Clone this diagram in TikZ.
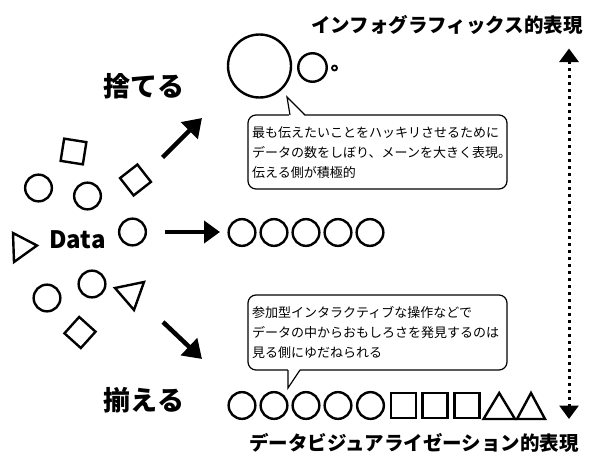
\documentclass[tikz,border=0pt]{standalone}
\usepackage{fontspec}
\setmainfont{Noto Sans CJK JP}
\usetikzlibrary{arrows.meta}
\begin{document}
\begin{tikzpicture}[x=1pt,y=-1pt,
 shp/.style={draw=black,line width=2.4pt,inner sep=0pt},
 circ/.style={shp,circle,minimum size=#1},
 sq/.style={shp,rectangle,minimum size=#1},
 tri/.style={draw=black,line width=2.4pt},
 bigarrow/.style={line width=4.5pt,-{Triangle[length=18pt,width=23pt]}},
 ttl/.style={font=\bfseries\fontsize{19.5}{20}\selectfont,anchor=base,inner sep=0pt},
 verb/.style={font=\bfseries\fontsize{27}{28}\selectfont,anchor=base,inner sep=0pt},
 callout/.style={draw=black,line width=1.2pt,rounded corners=8pt,rectangle,inner sep=0pt,fill=white},
 ctext/.style={font=\fontsize{13}{20}\selectfont,anchor=north west,align=left,inner sep=0pt},
 axisline/.style={line width=3pt,dash pattern=on 3pt off 4pt,
   {Triangle[length=13.5pt,width=19pt]}-{Triangle[length=13.5pt,width=19pt]}},
]
\useasboundingbox[fill=white] (0,0) rectangle (600,471);

% titles
\node[ttl] (t1) at (447,32.4) {インフォグラフィックス的表現};
\node[ttl] (t2) at (414,450.4) {データビジュアライゼーション的表現};
\node[verb] (v1) at (144,96.3) {捨てる};
\node[verb] (v2) at (144,410.3) {揃える};
\node[font=\bfseries\fontsize{24}{25}\selectfont,anchor=base,inner sep=0pt] (data) at (77.5,248.5) {Data};

% scattered data
\node[circ=26.7] (c1) at (38.5,188) {};
\node[circ=26.7] (c2) at (87.5,196) {};
\node[circ=26.7] (c3) at (132.5,232) {};
\node[circ=26.7] (c4) at (47,298) {};
\node[circ=26.7] (c5) at (92,284) {};
\node[sq=22.5,rotate=-9] (s1) at (73.5,151.5) {};
\node[sq=22,rotate=38] (s2) at (135.5,180) {};
\node[sq=22,rotate=48] (s3) at (80,332.5) {};
\draw[tri] (13,233) -- (37,245.5) -- (14,262) -- cycle;
\draw[tri] (115,288) -- (144,282) -- (134,310) -- cycle;

% arrows
\coordinate (a1s) at (162.5,157.5);
\coordinate (a1e) at (202,118);
\coordinate (a2s) at (165,232);
\coordinate (a2e) at (220,232);
\coordinate (a3s) at (163,322);
\coordinate (a3e) at (202,359);
\draw[bigarrow] (a1s) -- (a1e);
\draw[bigarrow,-{Triangle[length=16pt,width=22pt]}] (a2s) -- (a2e);
\draw[bigarrow] (a3s) -- (a3e);

% top result
\node[circ=63] (b1) at (259.5,66) {};
\node[circ=28.5] (b2) at (312.5,67.5) {};
\node[shp,circle,minimum size=5,line width=1.8pt] (b3) at (334.5,68) {};

% middle row
\foreach \i/\x in {1/242,2/274,3/306,4/338,5/370}
  \node[circ=26.7] (m\i) at (\x,232.5) {};

% bottom row
\foreach \i/\x in {1/242,2/274,3/306,4/338,5/370.5}
  \node[circ=26.7] (r\i) at (\x,405.5) {};
\foreach \i/\x in {1/403.5,2/435,3/467}
  \node[sq=25] (q\i) at (\x,405.5) {};
\draw[tri] (483.5,419) -- (515,419) -- (499.2,393) -- cycle;
\draw[tri] (517,419) -- (545,419) -- (531,393) -- cycle;

% callout 1
\node[callout,minimum width=259,minimum height=74] (k1) at (377.5,152) {};
\fill[white] (289.3,117) -- (287,97) -- (305.8,117) -- cycle;
\draw[line width=1.2pt,line join=miter] (290,115) -- (287,97) -- (305,115);
\node[ctext] (k1t) at (252,126.5) {最も伝えたいことをハッキリさせるために\\データの数をしぼり、メーンを大きく表現。\\伝える側が積極的};

% callout 2
\node[callout,minimum width=259,minimum height=75] (k2) at (377.5,332.5) {};
\fill[white] (288,368) -- (288,388) -- (300.8,368) -- cycle;
\draw[line width=1.2pt,line join=miter] (288,370) -- (288,388) -- (300,370);
\node[ctext] (k2t) at (252,306.5) {参加型インタラクティブな操作などで\\データの中からおもしろさを発見するのは\\見る側にゆだねられる};

% dotted axis
\coordinate (ytop) at (569,48.5);
\coordinate (ybot) at (569,419);
\draw[axisline] (ytop) -- (ybot);
\end{tikzpicture}
\end{document}
